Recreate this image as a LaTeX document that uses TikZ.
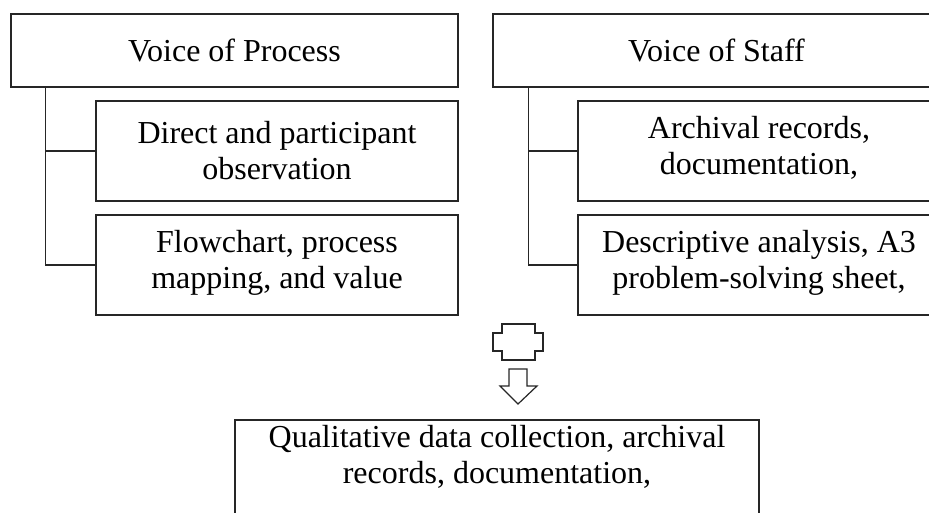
\documentclass[tikz,border=0pt]{standalone}
\usepackage{fontspec}
\setmainfont{Liberation Serif}
\usetikzlibrary{calc}

\tikzset{every picture/.style={line width=0.9pt}}
\tikzset{
  voicebox/.style={draw=black!85, rectangle, inner sep=0pt},
  voicetext/.style={anchor=north, inner sep=0pt, align=center,
    font=\fontsize{24}{27}\selectfont},
  trunk/.style={draw=black!85, line width=0.9pt},
  blockshape/.style={draw=black!85, line width=0.9pt, fill=white}
}

\begin{document}
\begin{tikzpicture}[x=0.75pt,y=0.75pt,yscale=-1,xscale=1]
\clip (0,0) rectangle (929,513);

% Voice of Process column
\node [voicebox, minimum width=335.25pt, minimum height=54.75pt] (vop) at (234.5,50.5) {};
\node [voicebox, minimum width=271.5pt, minimum height=75pt] (vopObs) at (277,151) {};
\node [voicebox, minimum width=271.5pt, minimum height=75pt] (vopMap) at (277,265) {};

% Voice of Staff column
\node [voicebox, minimum width=335.25pt, minimum height=54.75pt] (vos) at (716.5,50.5) {};
\node [voicebox, minimum width=271.5pt, minimum height=75pt] (vosRec) at (759,151) {};
\node [voicebox, minimum width=271.5pt, minimum height=75pt] (vosAna) at (759,265) {};

% Result
\node [voicebox, minimum width=393pt, minimum height=93pt] (qual) at (497,482) {};

%Straight Lines
\draw [trunk] (vop.south west) ++(35,0) |- (vopObs.west);
\draw [trunk] (vop.south west) ++(35,0) |- (vopMap.west);
\draw [trunk] (vos.south west) ++(36,0) |- (vosRec.west);
\draw [trunk] (vos.south west) ++(36,0) |- (vosAna.west);

%Shape: Cross
\draw [blockshape] (502,324) -- (535,324) -- (535,333) -- (543,333) -- (543,351) -- (535,351) -- (535,360) -- (502,360) -- (502,351) -- (493,351) -- (493,333) -- (502,333) -- cycle ;
%Shape: Down Arrow
\draw [blockshape] (509,369) -- (527,369) -- (527,386) -- (537,386) -- (518,404) -- (500,386) -- (509,386) -- cycle ;

% Text Node
\node [voicetext] (vopTxt) at ($(vop.north)+(0,25)$) {Voice of Process};
% Text Node
\node [voicetext] (vopObsTxt) at ($(vopObs.north)+(0,20)$) {Direct and participant\\observation};
% Text Node
\node [voicetext] (vopMapTxt) at ($(vopMap.north)+(0,15)$) {Flowchart, process\\mapping, and value};
% Text Node
\node [voicetext] (vosTxt) at ($(vos.north)+(0,25)$) {Voice of Staff};
% Text Node
\node [voicetext] (vosRecTxt) at ($(vosRec.north)+(0,15)$) {Archival records,\\documentation,};
% Text Node
\node [voicetext] (vosAnaTxt) at ($(vosAna.north)+(0,15)$) {Descriptive analysis, A3\\problem-solving sheet,};
% Text Node
\node [voicetext] (qualTxt) at ($(qual.north)+(0,5)$) {Qualitative data collection, archival\\records, documentation,};

\end{tikzpicture}
\end{document}
